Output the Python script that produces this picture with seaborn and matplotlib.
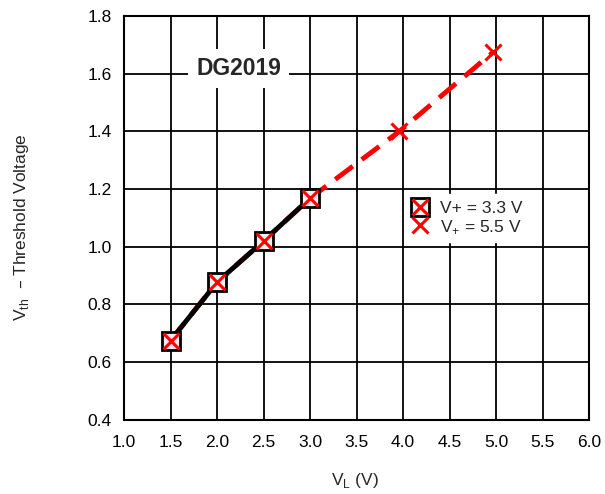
import matplotlib
matplotlib.use('Agg')
import matplotlib.pyplot as plt
import seaborn as sns
import pandas as pd
from matplotlib.legend_handler import HandlerTuple
from matplotlib.lines import Line2D

# data
vl_33 = [1.5, 2.0, 2.5, 3.0]
vth_33 = [0.675, 0.877, 1.02, 1.168]
vl_55 = [1.5, 2.0, 2.5, 3.0, 3.96, 4.97]
vth_55 = [0.675, 0.877, 1.02, 1.168, 1.40, 1.675]
x_ticks = [1.0, 1.5, 2.0, 2.5, 3.0, 3.5, 4.0, 4.5, 5.0, 5.5, 6.0]
y_ticks = [0.4, 0.6, 0.8, 1.0, 1.2, 1.4, 1.6, 1.8]

sns.set_theme(style='whitegrid')
plt.rcParams['font.family'] = ['Liberation Sans', 'DejaVu Sans']
plt.rcParams.update({
    'axes.edgecolor': 'black',
    'axes.linewidth': 1.5,
    'grid.color': 'black',
    'grid.linewidth': 1.3,
    'xtick.major.size': 0,
    'ytick.major.size': 0,
})

df33 = pd.DataFrame({'VL': vl_33, 'Vth': vth_33})
df55 = pd.DataFrame({'VL': vl_55, 'Vth': vth_55})

fig = plt.figure(figsize=(6.05, 4.94), dpi=100)
ax = fig.add_axes([0.205, 0.150, 0.769, 0.818])

red = '#ff0000'
sns.lineplot(data=df55, x='VL', y='Vth', ax=ax, color=red, linewidth=3.5,
             zorder=3)
ax.lines[-1].set_dashes([4.5, 2.3])
sns.lineplot(data=df33, x='VL', y='Vth', ax=ax, color='black', linewidth=3.5,
             zorder=4)
ax.plot(vl_33, vth_33, linestyle='none', marker='s', markersize=12.5,
        markerfacecolor='#eeeeee', markeredgecolor='black',
        markeredgewidth=2, zorder=5)
ax.plot(vl_55, vth_55, linestyle='none', marker='x', markersize=12,
        color=red, markeredgewidth=2.2, zorder=6)

ax.set_xlim(1.0, 6.0)
ax.set_ylim(0.4, 1.8)
ax.set_xticks(x_ticks)
ax.set_yticks(y_ticks)
ax.set_xticklabels([f'{v:.1f}' for v in x_ticks], fontsize=12.5)
ax.set_yticklabels([f'{v:.1f}' for v in y_ticks], fontsize=12.5)
ax.tick_params(axis='x', pad=11, colors='black')
ax.tick_params(axis='y', pad=9, colors='black')
ax.grid(True, color='black', linewidth=1.3)
ax.set_axisbelow(True)

ax.set_xlabel('')
ax.set_ylabel('')
fig.text(0.587, 0.008, 'V$_\\mathregular{L}$ (V)', ha='center', va='bottom',
         fontsize=12.5)
fig.text(0.036, 0.54, 'V$_\\mathregular{th}$  – Threshold Voltage',
         ha='center', va='center', rotation=90, fontsize=12.5)

ax.text(2.23, 1.617, 'DG2019', ha='center', va='center', fontsize=16.5,
        fontweight='bold', zorder=7,
        bbox=dict(facecolor='white', edgecolor='none', pad=6))

sq = Line2D([], [], linestyle='none', marker='s', markersize=12.5,
            markerfacecolor='#eeeeee', markeredgecolor='black',
            markeredgewidth=2)
xx = Line2D([], [], linestyle='none', marker='x', markersize=12,
            color=red, markeredgewidth=2.2)
leg = ax.legend([(sq, xx), xx],
                ['V+ = 3.3 V', 'V$_\\mathregular{+}$ = 5.5 V'],
                handler_map={tuple: HandlerTuple(ndivide=1)},
                loc='center left', bbox_to_anchor=(0.585, 0.5),
                frameon=True, fancybox=False, framealpha=1,
                edgecolor='white', fontsize=12.5, handlelength=1.0,
                handletextpad=0.6, labelspacing=0.15, borderpad=0.4)
leg.set_zorder(8)

fig.savefig('out.png', dpi=100, facecolor='white')
